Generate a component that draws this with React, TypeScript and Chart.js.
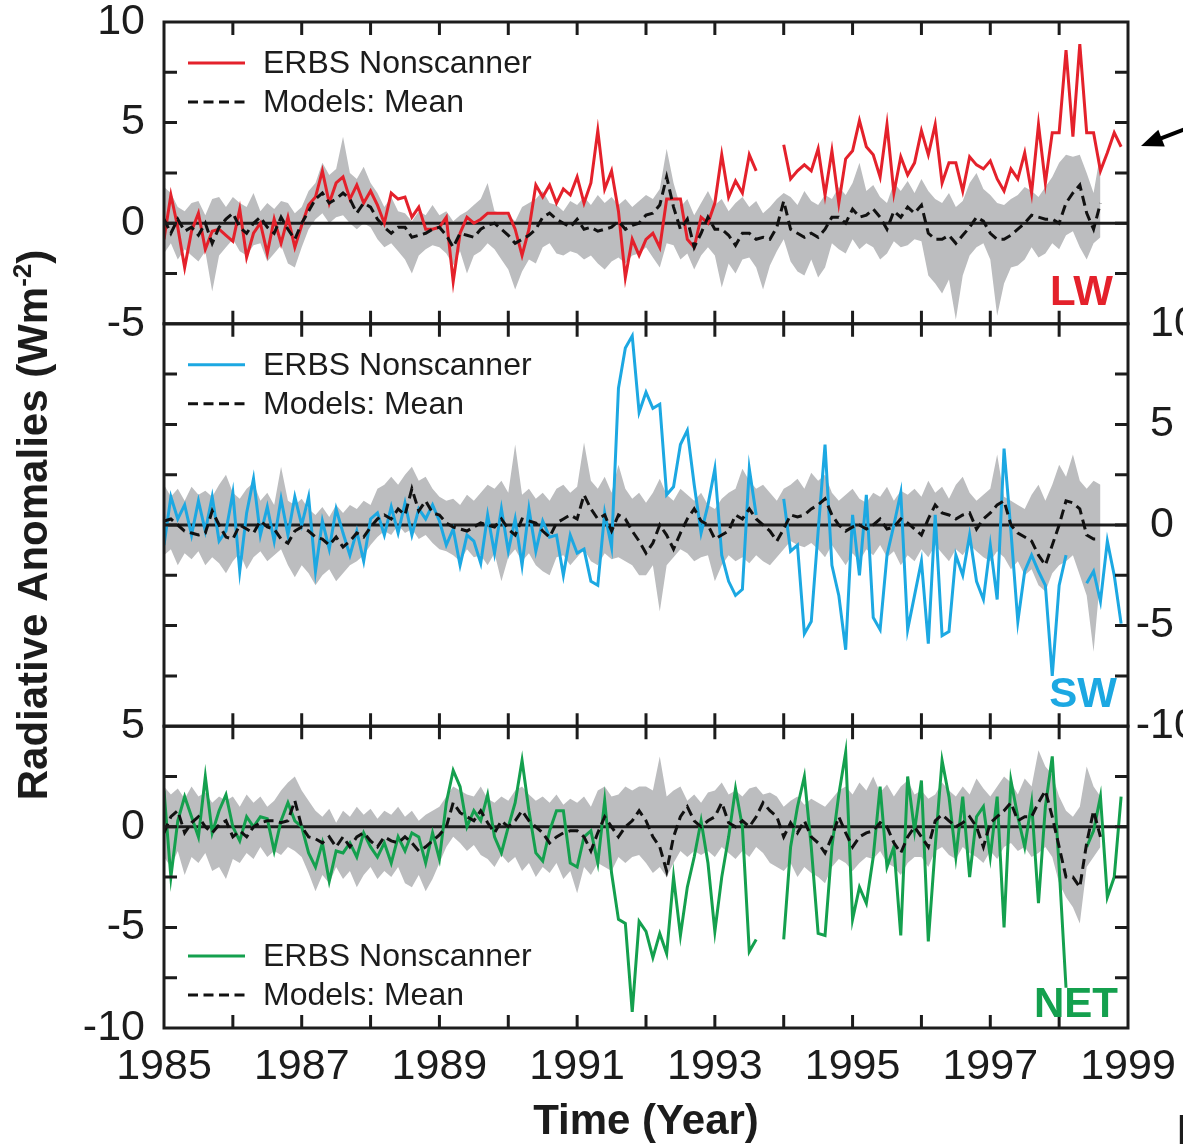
import React, { useEffect, useRef } from 'react';
import { Chart, registerables } from 'chart.js';

Chart.register(...registerables);

// ---------- axis / label data ----------
const START_YEAR = 1985;
const STEP_YEARS = 0.1;
const X_MIN = 1985;
const X_MAX = 1999;
const X_LABEL_STEP = 2;
const Y_TICK_STEP = 2.5;
const Y_LABEL_EVERY = 5;

const LEGEND_LABELS = ['ERBS Nonscanner', 'Models: Mean'];
const X_TITLE = 'Time (Year)';
const Y_TITLE_MAIN = 'Radiative Anomalies (Wm';
const Y_TITLE_SUP = '-2';
const Y_TITLE_END = ')';

// ---------- LW ----------
const LW_ERBS = [
  -0.8, 1.4, -0.2, -2.2, -0.4, 0.5, -1.3, -0.4, -0.3, -0.6,
  -0.9, 0.7, -1.7, -0.5, 0.0, -1.5, 0.2, -1.0, 0.3, -1.2,
  -0.1, 0.9, 1.3, 2.6, 1.0, 2.0, 2.3, 1.2, 1.9, 1.0,
  1.6, 0.9, 0.0, 1.5, 1.2, 1.3, 0.3, 0.8, -0.3, -0.3,
  -0.2, 0.3, -2.9, -0.5, 0.3, 0.0, 0.2, 0.5, 0.5, 0.5,
  0.5, -0.3, -1.6, -0.3, 1.9, 1.3, 1.9, 1.0, 1.7, 1.4,
  2.3, 1.0, 2.0, 4.6, 1.7, 2.6, 0.6, -2.7, -0.8, -1.6,
  -0.8, -0.5, -1.2, 1.2, 1.2, 1.2, -0.8, -1.2, 0.3, 0.0,
  1.0, 3.4, 1.3, 2.1, 1.5, 3.4, 2.6, null, null, null,
  3.9, 2.2, 2.6, 2.9, 2.6, 3.7, 1.4, 3.6, 1.0, 3.2,
  3.6, 5.1, 3.8, 3.4, 2.3, 4.9, 1.5, 3.3, 2.4, 3.0,
  4.6, 3.4, 4.9, 2.0, 3.0, 3.0, 1.6, 3.3, 2.9, 2.7,
  3.1, 2.2, 1.6, 2.7, 2.2, 3.5, 1.5, 4.9, 2.0, 4.5,
  4.5, 8.6, 4.3, 8.9, 4.5, 4.5, 2.6, 3.5, 4.5, 3.8,
];
const LW_MEAN = [
  0.2, -0.5, 0.2, -0.4, -0.2, -0.6, 0.0, -1.0, -0.2, 0.2,
  0.5, -0.2, -0.5, 0.0, 0.3, -0.2, -0.5, 0.3, -0.3, -0.8,
  0.0, 0.6, 1.2, 1.5, 1.0, 1.2, 1.5, 1.2, 0.5, 1.0,
  0.8, 0.2, -0.2, -0.5, -0.2, -0.2, -0.7, -0.6, -0.5, -0.3,
  -0.2, -0.6, -1.2, -0.5, -0.6, -0.7, -0.3, -0.1, 0.0, -0.3,
  -0.6, -1.0, -0.8, -0.6, -0.3, 0.3, 0.5, 0.2, 0.0, -0.2,
  0.2, -0.3, -0.2, -0.4, -0.3, -0.2, 0.1, -0.3, -0.1, 0.0,
  0.4, 0.5, 0.9, 2.3, 0.8, -0.3, 0.2, -1.2, -0.5, 0.3,
  -0.3, -0.3, -0.6, -1.1, -0.5, -0.5, -0.8, -0.7, -0.8, -0.2,
  1.1, -0.3, -0.5, -0.7, -0.5, -0.7, -0.3, 0.3, 0.3, 0.0,
  0.7, 0.3, 0.4, 0.7, 0.3, -0.3, 0.6, 0.3, 0.8, 0.5,
  0.9, -0.5, -0.8, -0.8, -0.6, -1.0, -0.6, -0.2, 0.3, 0.1,
  -0.5, -0.8, -0.8, -0.6, -0.3, 0.0, 0.4, 0.3, 0.2, 0.2,
  0.0, 1.0, 1.5, 1.9, 0.5, -0.3, 1.0, null, null, null,
];
const LW_HI = [
  1.8, 1.5, 0.8, 0.6, 1.0, 1.1, 0.4, 1.2, 1.3, 0.8,
  1.3, 1.0, 0.8, 1.5, 0.6, 1.0, 0.7, 1.1, 1.0, 0.5,
  0.8, 1.6, 2.0, 3.0, 2.4, 2.7, 4.3, 2.5, 2.2, 2.8,
  2.0, 1.5, 0.8, 1.3, 0.6, 0.5, 0.1, 0.6, 0.4, 0.9,
  0.4, 0.6, 0.1, 0.4, 0.6, 0.9, 1.2, 2.0, 0.6, 0.5,
  0.4, 0.1, 0.8, 1.0, 1.2, 1.6, 1.0, 0.9, 0.6, 1.1,
  0.9, 1.3, 0.9, 1.4, 1.0, 1.3, 0.9, 1.2, 0.8, 1.1,
  1.4, 1.2, 1.7, 3.7, 2.0, 0.8, 1.2, 0.4, 1.0, 1.6,
  0.9, 1.2, 0.6, 1.0, 1.3, 0.8, 1.1, 0.5, 0.8, 1.2,
  1.5, 1.3, 0.9, 1.6, 1.1, 0.9, 1.4, 1.2, 1.8, 1.4,
  2.0, 3.0, 1.6, 1.9, 1.3, 1.0, 2.0, 1.6, 2.1, 1.5,
  2.2, 1.6, 1.2, 1.0, 1.5, 0.8, 1.1, 2.0, 2.5, 1.7,
  1.4, 1.0, 0.9, 1.2, 1.4, 1.8, 1.6, 1.3, 1.8, 2.3,
  3.0, 3.4, 3.3, 3.4, 2.5, 1.5, 3.5, null, null, null,
];
const LW_LO = [
  -1.5, -1.0, -1.8, -1.3, -1.6, -1.9, -1.4, -3.4, -1.6, -1.2,
  -0.8, -1.4, -1.6, -1.1, -1.0, -1.9, -1.5, -1.1, -2.0, -2.2,
  -1.2, -0.3, 0.2, 0.5, 0.0, 0.3, 0.4, 0.0, -0.3, 0.0,
  -0.2, -0.8, -1.2, -1.0, -1.4, -1.8, -2.5, -1.6, -1.3, -1.1,
  -1.2, -1.5, -2.1, -1.4, -2.5, -1.6, -1.4, -1.0, -1.3, -1.8,
  -2.3, -3.3, -2.4, -1.8, -2.0, -1.2, -1.0, -1.5, -1.6, -1.4,
  -1.5, -1.8, -1.6, -2.0, -2.3, -1.9, -1.7, -2.0, -1.6, -1.5,
  -1.2, -1.7, -2.2, -1.0, -1.1, -1.8, -1.5, -2.3, -1.6, -1.2,
  -1.6, -3.2, -2.0, -2.5, -1.8, -1.7, -2.2, -3.3, -2.1, -1.4,
  -0.8, -1.9, -2.4, -2.6, -1.8, -2.7, -2.2, -1.0, -1.3, -1.5,
  -0.8, -1.3, -1.0, -1.2, -1.8, -1.5, -0.9, -1.2, -1.1, -0.8,
  -0.9, -2.6, -3.0, -3.5, -2.8, -4.8, -2.6, -1.6, -1.2, -1.0,
  -1.8, -4.6, -3.0, -2.2, -2.1, -1.8, -1.2, -1.7, -1.5, -1.0,
  -1.3, -0.6, -0.4, -1.2, -1.8, -1.0, -0.7, null, null, null,
];

// ---------- SW ----------
const SW_ERBS = [
  -1.0, 1.4, 0.3, 1.0, -0.5, 1.2, -0.3, 1.4, -0.8, -0.3,
  1.6, -2.3, 0.6, 2.3, -0.5, 0.9, -0.8, 1.3, -0.5, 1.4,
  0.0, 1.4, -2.3, 0.2, -1.2, 0.8, -0.4, -1.5, -0.3, -1.8,
  0.3, 0.6, -0.5, 0.9, -0.4, 1.1, -0.5, 0.8, 0.3, 1.0,
  0.2, -1.0, -0.2, -2.0, -0.5, -0.8, -1.9, 0.5, -1.4, 0.8,
  -1.3, 0.3, -2.0, 0.8, -1.3, 0.2, -0.6, -0.5, -2.5, -0.5,
  -1.4, -1.2, -2.8, -3.0, 0.6, -1.1, 6.8, 8.8, 9.4, 5.6,
  6.6, 5.8, 6.0, 1.5, 1.9, 4.0, 4.7, 2.0, -0.4, 1.0,
  2.8, -1.5, -2.8, -3.5, -3.2, 2.8, 0.5, null, null, null,
  1.3, -1.3, -1.0, -5.4, -4.8, -0.3, 4.0, -2.0, -3.5, -6.2,
  0.5, -2.5, 1.5, -4.6, -5.2, -1.5, 0.0, 1.6, -5.2, -3.5,
  -1.8, -5.9, 0.5, -5.5, -5.3, -1.5, -2.5, -0.5, -2.8, -3.7,
  -1.0, -3.7, 3.8, -0.3, -4.8, -2.3, -1.5, -2.3, -3.0, -7.5,
  -3.0, -1.5, null, null, -2.9, -2.3, -3.8, -0.8, -2.5, -4.9,
];
const SW_MEAN = [
  0.2, 0.3, 0.0, -0.3, -0.4, -0.5, -0.4, 0.7, 0.0, -0.6,
  -0.7, 0.0, -0.2, -0.4, 0.2, -0.1, -0.2, -0.7, -0.9, -0.3,
  -0.1, -0.3, -0.6, -0.7, -1.0, -0.6, -1.1, -0.8, -0.4, -0.6,
  -0.1, 0.3, 0.5, 0.3, 0.8, 0.5, 1.8, 0.7, 1.2, 0.6,
  0.5, 0.1, -0.1, -0.2, -0.3, -0.1, 0.1, 0.0, -0.1, 0.3,
  -0.2, -0.5, 0.3, 0.2, 0.1, -0.3, -0.6, 0.1, 0.3, 0.5,
  0.3, 1.5, 0.8, 0.3, 0.5, -0.3, 0.5, 0.3, -0.3, -0.8,
  -1.4, -0.9, 0.0, -0.5, -1.2, -0.4, 0.3, 0.8, 0.2, 0.0,
  -0.7, -0.5, -0.3, 0.5, 0.3, 0.8, 0.3, 0.0, -0.3, -0.8,
  -0.2, 0.5, 0.4, 0.5, 0.8, 1.0, 1.3, 0.5, 0.0, -0.3,
  -0.1, 0.0, -0.2, 0.0, 0.3, -0.2, -0.1, 0.3, 0.1, -0.2,
  -0.5, 0.3, 1.0, 0.6, 0.5, 0.3, 0.5, 0.6, -0.2, 0.3,
  0.6, 1.0, 1.2, 0.0, -0.4, -0.6, -0.8, -1.5, -2.0, -1.0,
  0.0, 1.2, 1.1, 0.8, -0.5, -0.7, -0.7, null, null, null,
];
const SW_HI = [
  2.0, 1.4, 1.8, 1.2, 1.9, 1.5, 1.7, 1.4, 2.0, 2.5,
  1.6, 1.3, 1.8, 2.1, 1.2, 1.6, 1.0, 2.9, 1.2, 1.0,
  1.3, 0.8, 0.5, 0.9, 0.4, 1.0, 0.6, 1.0, 0.8, 1.2,
  1.0, 1.8, 2.0, 2.4, 2.0, 2.5, 2.9, 2.2, 2.4, 1.8,
  1.4, 1.2, 1.3, 1.0, 1.5, 1.2, 1.6, 2.0, 1.8, 2.2,
  1.6, 4.0, 1.5, 1.8, 1.3, 1.6, 1.2, 1.8, 2.0, 1.6,
  1.9, 4.1, 2.2, 1.8, 2.4, 1.6, 3.0, 1.8, 1.3, 1.6,
  1.1, 1.6, 2.3, 1.5, 1.2, 1.8, 1.5, 1.2, 1.6, 1.0,
  0.8, 1.3, 1.6, 1.8, 2.8, 2.2, 1.8, 2.0, 1.6, 1.2,
  1.8, 2.0, 2.3, 1.8, 2.6, 2.2, 2.5, 1.6, 1.2, 1.5,
  1.8, 1.3, 1.1, 1.6, 1.4, 1.9, 1.2, 1.7, 1.5, 1.8,
  1.4, 2.2, 1.6, 1.9, 1.3, 2.0, 2.4, 1.6, 1.2, 1.5,
  1.8, 3.5, 1.4, 1.2, 1.0, 0.8, 1.5, 2.0, 1.2, 2.0,
  3.0, 2.4, 3.5, 2.2, 1.8, 2.2, 2.0, null, null, null,
];
const SW_LO = [
  -1.5, -1.2, -2.0, -1.4, -1.7, -1.3, -2.0, -1.6, -1.9, -2.4,
  -1.8, -1.4, -2.2, -1.6, -1.3, -1.8, -1.5, -1.2, -2.0, -2.6,
  -2.0, -2.4, -3.0, -2.5, -2.2, -2.8, -2.4, -2.0, -1.8, -1.5,
  -1.0, -0.6, -0.3, -0.5, 0.0, -0.4, -0.2, -0.7, -0.5, -0.9,
  -1.2, -1.3, -1.5, -1.8, -1.2, -1.6, -1.5, -2.0, -1.4, -2.8,
  -1.6, -1.2, -1.8, -1.4, -2.0, -2.3, -2.5, -1.6, -1.5, -2.0,
  -1.6, -1.2, -1.8, -2.0, -1.4, -1.7, -1.6, -1.8, -2.0, -2.5,
  -2.5, -2.0, -4.3, -2.0, -1.6, -1.2, -1.4, -1.8, -1.6, -1.5,
  -2.8, -2.0, -1.5, -1.8, -1.6, -1.9, -1.5, -1.8, -2.0, -1.6,
  -1.2, -0.8, -1.0, -1.1, -0.9, -1.2, -1.6, -1.0, -1.5, -2.0,
  -1.4, -1.8, -1.2, -1.5, -1.0, -1.6, -1.3, -2.0, -1.5, -1.8,
  -1.2, -1.6, -1.0, -1.4, -1.8, -1.2, -1.5, -1.0, -1.3, -1.6,
  -1.8, -1.3, -1.6, -2.2, -1.8, -2.5, -2.2, -3.0, -3.3, -2.4,
  -2.0, -1.8, -1.5, -2.5, -3.5, -6.3, -2.5, null, null, null,
];

// ---------- NET ----------
const NET_ERBS = [
  1.8, -2.5, 0.3, 1.5, 0.5, -0.5, 2.5, -0.3, 0.8, 1.6,
  0.0, -0.7, 0.5, 0.0, 0.5, 0.4, -1.2, 0.3, 1.2, 0.3,
  0.0, -1.3, -2.0, -0.8, -2.7, -1.2, -1.3, -0.8, -1.5, -0.3,
  -1.0, -1.5, -0.8, -1.8, -0.5, -1.2, -0.3, -0.5, -1.8, -0.3,
  -1.6, 1.2, 2.8, 2.0, 0.0, 0.8, 0.3, 1.6, -0.5, -1.3,
  0.0, 1.2, 3.3, 0.8, -1.3, -1.7, -0.2, 0.8, 0.8, -1.8,
  -2.0, -0.5, -0.2, -1.8, 1.3, -2.3, -4.6, -4.8, -9.2, -4.7,
  -5.2, -6.5, -5.3, -6.3, -2.5, -5.4, -3.0, -1.5, 0.3, -1.8,
  -5.2, -2.5, -0.5, 1.9, 0.0, -6.2, -5.6, null, null, null,
  -5.6, -1.0, 1.0, 2.5, -1.0, -5.3, -5.4, -1.0, 1.6, 3.7,
  -4.6, -3.0, -3.8, -1.5, 2.0, -2.0, -1.0, -5.4, 2.5, -0.2,
  2.3, -5.7, -1.0, 3.3, 1.5, -1.5, 1.5, -2.5, 0.5, 1.0,
  -1.5, 1.5, -5.0, 2.3, 0.5, -1.0, 1.2, -3.8, 1.0, 3.5,
  -2.0, -8.0, null, null, -1.0, -0.2, 1.5, -3.5, -2.5, 1.5,
];
const NET_MEAN = [
  -0.3, 0.5, 0.8, -0.3, 0.2, 0.5, 0.0, -0.3, 0.1, 0.3,
  -0.5, -0.2, -0.5, 0.0, 0.2, 0.3, 0.3, 0.2, 0.3, 1.3,
  0.0, -0.5, -0.6, -0.8, -0.5, -1.0, -0.5, -1.0, -0.5, -0.3,
  -0.7, -1.0, -0.5, -0.7, -0.8, -0.5, -0.8, -1.2, -1.0, -0.7,
  -0.4, 0.0, 1.2, 0.7, 0.5, 0.3, 0.8, 0.2, -0.3, 0.3,
  0.0, 0.3, 0.8, 0.3, 0.0, -0.3, -0.8, -0.5, -0.3, -0.2,
  -0.2, -0.5, -1.2, -0.3, 0.5, 0.0, -0.5, 0.0, 0.3, 0.8,
  0.3, -0.5, -1.0, -2.2, -0.5, 0.5, 1.0, 0.3, 0.0, 0.3,
  0.5, 1.2, 0.2, 0.0, 0.3, 0.0, 0.5, 1.2, 0.8, 0.5,
  -0.5, 0.2, -0.3, 0.3, -0.5, -0.8, -1.3, -0.5, 0.5, -0.3,
  -1.0, -0.5, -0.3, -0.2, 0.2, 0.0, -0.8, -1.3, -0.5, 0.0,
  -0.5, -1.0, 0.3, 0.6, 0.3, 0.0, 0.2, 0.5, 0.0, -1.0,
  0.2, 0.5, 0.8, 1.2, 0.3, 0.5, 0.5, 1.2, 1.8, 0.5,
  -1.0, -2.5, -2.5, -3.0, -0.8, 0.8, -0.5, null, null, null,
];
const NET_HI = [
  2.0, 1.6, 1.9, 1.4, 2.0, 1.5, 1.7, 1.2, 1.5, 1.3,
  1.5, 1.0, 1.6, 1.2, 1.5, 1.0, 1.3, 1.8, 2.2, 2.5,
  1.8, 1.3, 0.8, 0.5, 0.9, 0.2, 0.8, 0.5, 1.0, 0.6,
  0.9, 0.4, 0.8, 0.6, 1.0, 0.5, 0.8, 0.3, 0.6, 0.8,
  1.0, 1.5, 2.0, 1.8, 1.6, 1.5, 2.0, 1.4, 1.2, 1.5,
  1.3, 1.8, 2.0, 1.6, 1.3, 1.5, 1.2, 1.6, 1.1, 1.4,
  1.2, 1.5, 1.0, 1.8, 2.0, 1.5, 1.6, 2.0, 1.8, 2.0,
  2.0, 1.8, 3.5, 1.5, 1.8, 2.0, 1.3, 1.6, 1.2, 1.7,
  1.8, 2.2, 1.6, 1.8, 1.5, 1.9, 2.0, 1.6, 1.7, 1.5,
  1.0, 1.3, 1.5, 1.1, 1.4, 1.2, 1.0, 1.4, 1.8, 2.0,
  1.6, 2.2, 1.8, 2.5, 1.7, 2.1, 1.5, 2.0, 2.3, 1.6,
  1.8, 1.4, 1.6, 2.2, 1.8, 1.5, 2.0, 1.6, 2.4, 1.9,
  1.5, 2.0, 2.5, 2.2, 1.6, 2.4, 2.0, 3.8, 3.0, 2.6,
  1.5, 0.8, 0.5, 1.0, 3.0, 2.0, 1.5, null, null, null,
];
const NET_LO = [
  -1.5, -2.0, -1.2, -2.4, -1.5, -1.8, -1.3, -2.2, -2.0, -2.6,
  -1.6, -1.8, -1.3, -1.6, -1.0, -1.5, -1.2, -1.4, -1.0, -1.2,
  -1.5, -2.3, -3.2, -2.4, -2.8, -2.0, -2.6, -2.2, -3.0, -2.4,
  -2.0, -2.6, -2.2, -2.5, -2.0, -2.8, -3.0, -2.4, -3.2, -2.6,
  -1.8, -1.0, -0.5, -0.8, -1.2, -0.9, -1.4, -1.6, -2.0, -1.4,
  -1.8, -1.5, -2.2, -1.8, -2.5, -2.0, -2.3, -1.8, -2.6, -2.2,
  -3.3, -2.0, -2.4, -1.8, -2.0, -2.2, -1.5, -1.8, -1.5, -1.4,
  -1.8, -2.3, -2.0, -2.5, -1.8, -1.2, -1.5, -1.2, -1.4, -1.2,
  -1.5, -1.0, -1.3, -1.6, -1.2, -1.5, -1.0, -1.3, -1.8, -2.0,
  -2.2, -1.8, -2.5, -2.0, -2.3, -2.5, -2.8, -2.0, -1.6, -1.8,
  -2.2, -1.8, -1.5, -1.6, -1.2, -1.8, -2.0, -2.4, -1.8, -1.5,
  -1.5, -2.0, -1.2, -1.0, -1.4, -1.6, -1.0, -1.3, -1.5, -1.8,
  -1.2, -1.6, -1.0, -0.8, -1.2, -1.0, -1.5, -1.3, -1.0, -1.5,
  -2.8, -3.5, -4.0, -4.8, -2.0, -1.5, -1.0, null, null, null,
];

// ---------- styles ----------
const FONT = '"Liberation Sans", Arial, Helvetica, sans-serif';
const INK = '#1c1c1c';
const BAND = '#bcbdbf';
const CANVAS_W = 1183;
const CANVAS_H = 1148;
const PLOT_LEFT = 164;
const TICK_FONT_SIZE = 43;
const LINE_W = 3;

type Panel = {
  id: string; name: string; min: number; max: number; color: string;
  erbs: (number | null)[]; mean: (number | null)[]; hi: (number | null)[]; lo: (number | null)[];
  weight: number; leftLabels: boolean; rightLabels: boolean;
  legendTop: boolean; labelInsetRight: number; labelInsetBottom: number;
};

const PANELS: Panel[] = [
  { id: 'yLW', name: 'LW', min: -5, max: 10, color: '#e4212b', erbs: LW_ERBS, mean: LW_MEAN, hi: LW_HI, lo: LW_LO,
    weight: 3, leftLabels: true, rightLabels: false, legendTop: true, labelInsetRight: 15, labelInsetBottom: 19 },
  { id: 'ySW', name: 'SW', min: -10, max: 10, color: '#1ca8e2', erbs: SW_ERBS, mean: SW_MEAN, hi: SW_HI, lo: SW_LO,
    weight: 2, leftLabels: false, rightLabels: true, legendTop: true, labelInsetRight: 11, labelInsetBottom: 19 },
  { id: 'yNET', name: 'NET', min: -10, max: 5, color: '#14a04e', erbs: NET_ERBS, mean: NET_MEAN, hi: NET_HI, lo: NET_LO,
    weight: 1, leftLabels: true, rightLabels: false, legendTop: false, labelInsetRight: 10, labelInsetBottom: 11 },
];

function toPoints(values: (number | null)[]) {
  return values.map((v, i) => ({ x: Math.round((START_YEAR + i * STEP_YEARS) * 100) / 100, y: v }));
}

function buildDatasets() {
  const ds: any[] = [];
  PANELS.forEach((p) => {
    ds.push({
      data: toPoints(p.hi), yAxisID: p.id, borderWidth: 0, pointRadius: 0, fill: '+1',
      backgroundColor: BAND, borderColor: BAND, order: 3, spanGaps: false, tension: 0, zeroLineAxis: p.id,
    });
    ds.push({
      data: toPoints(p.lo), yAxisID: p.id, borderWidth: 0, pointRadius: 0, fill: false,
      backgroundColor: BAND, borderColor: BAND, order: 3, spanGaps: false, tension: 0,
    });
    ds.push({
      data: toPoints(p.erbs), yAxisID: p.id, borderWidth: LINE_W, pointRadius: 0, fill: false,
      borderColor: p.color, order: 1, spanGaps: false, tension: 0,
    });
    ds.push({
      data: toPoints(p.mean), yAxisID: p.id, borderWidth: LINE_W, pointRadius: 0, fill: false,
      borderColor: '#111111', borderDash: [10, 5.5], order: 0, spanGaps: false, tension: 0,
    });
  });
  return ds;
}

function buildScales() {
  const scales: any = {
    x: {
      type: 'linear', position: 'bottom', min: X_MIN, max: X_MAX,
      grid: { display: false, drawTicks: false }, border: { display: false },
      ticks: {
        stepSize: X_LABEL_STEP, autoSkip: false, maxRotation: 0, minRotation: 0, padding: 13,
        color: INK, font: { family: FONT, size: TICK_FONT_SIZE }, callback: (v: number) => String(v),
      },
      title: { display: true, text: X_TITLE, color: INK, padding: 0, font: { family: FONT, size: 42, weight: 'bold' } },
      afterFit: (s: any) => { s.height = 120; s.paddingLeft = 0; s.paddingRight = 0; },
    },
  };
  [...PANELS].reverse().forEach((p) => {
    scales[p.id] = {
      type: 'linear', position: 'left', stack: 'panels', stackWeight: p.max - p.min, weight: p.weight,
      min: p.min, max: p.max,
      grid: { display: false, drawTicks: false }, border: { display: false },
      ticks: {
        stepSize: Y_TICK_STEP, autoSkip: false, padding: 19, color: INK, font: { family: FONT, size: TICK_FONT_SIZE },
        callback: (v: number) => (p.leftLabels && v % Y_LABEL_EVERY === 0 ? String(v) : ''),
      },
      afterFit: (s: any) => { s.width = PLOT_LEFT; s.paddingTop = 0; s.paddingBottom = 0; },
    };
  });
  return scales;
}

const framePlugin = {
  id: 'panelFrames',
  afterDatasetDraw(chart: any, args: any) {
    const ds = chart.data.datasets[args.index];
    if (!ds || !ds.zeroLineAxis) return;
    const y = chart.scales[ds.zeroLineAxis];
    const { left, right } = chart.chartArea;
    const py = y.getPixelForValue(0);
    const ctx = chart.ctx;
    ctx.save();
    ctx.strokeStyle = INK;
    ctx.lineWidth = 3;
    ctx.beginPath();
    ctx.moveTo(left, py);
    ctx.lineTo(right, py);
    ctx.stroke();
    ctx.restore();
  },
  afterDraw(chart: any) {
    const ctx: CanvasRenderingContext2D = chart.ctx;
    const x = chart.scales.x;
    const { left, right, top: areaTop, bottom: areaBottom } = chart.chartArea;
    const TICK = 13;
    ctx.save();
    PANELS.forEach((p) => {
      const y = chart.scales[p.id];
      const top = y.top;
      const bottom = y.bottom;
      ctx.strokeStyle = INK;
      ctx.lineWidth = 3;
      ctx.setLineDash([]);
      ctx.beginPath();
      for (let yr = Math.ceil(x.min) + 1; yr < x.max; yr++) {
        const px = x.getPixelForValue(yr);
        ctx.moveTo(px, top); ctx.lineTo(px, top + TICK);
        ctx.moveTo(px, bottom); ctx.lineTo(px, bottom - TICK);
      }
      y.ticks.forEach((t: any) => {
        if (t.value <= y.min || t.value >= y.max) return;
        const py = y.getPixelForValue(t.value);
        ctx.moveTo(left, py); ctx.lineTo(left + TICK, py);
        ctx.moveTo(right, py); ctx.lineTo(right - TICK, py);
      });
      ctx.stroke();
      ctx.strokeRect(left, top, right - left, bottom - top);

      // legend
      const row1 = p.legendTop ? top + 41 : bottom - 72;
      const row2 = row1 + 39;
      const l0 = left + 24, l1 = left + 81, tx = left + 99;
      ctx.lineWidth = 3;
      ctx.strokeStyle = p.color;
      ctx.beginPath(); ctx.moveTo(l0, row1); ctx.lineTo(l1, row1); ctx.stroke();
      ctx.strokeStyle = '#111111';
      ctx.setLineDash([10, 5.5]);
      ctx.beginPath(); ctx.moveTo(l0, row2); ctx.lineTo(l1, row2); ctx.stroke();
      ctx.setLineDash([]);
      ctx.fillStyle = INK;
      ctx.font = `32px ${FONT}`;
      ctx.textAlign = 'left';
      ctx.textBaseline = 'middle';
      ctx.fillText(LEGEND_LABELS[0], tx, row1 + 1);
      ctx.fillText(LEGEND_LABELS[1], tx, row2 + 1);

      // panel label
      ctx.fillStyle = p.color;
      ctx.font = `bold 42px ${FONT}`;
      ctx.textAlign = 'right';
      ctx.textBaseline = 'alphabetic';
      ctx.fillText(p.name, right - p.labelInsetRight, bottom - p.labelInsetBottom);

      // right-hand labels (neighbouring panel scale)
      if (p.rightLabels) {
        ctx.fillStyle = INK;
        ctx.font = `${TICK_FONT_SIZE}px ${FONT}`;
        ctx.textAlign = 'left';
        ctx.textBaseline = 'middle';
        const minusW = ctx.measureText('-').width;
        y.ticks.forEach((t: any) => {
          if (t.value % Y_LABEL_EVERY !== 0) return;
          const py = y.getPixelForValue(t.value);
          const xs = right + 22 - (t.value < 0 ? minusW : 0);
          ctx.fillText(String(t.value), xs, py);
        });
      }
    });

    // y axis title with superscript
    ctx.save();
    ctx.translate(32, (areaTop + areaBottom) / 2);
    ctx.rotate(-Math.PI / 2);
    ctx.fillStyle = INK;
    ctx.textBaseline = 'alphabetic';
    ctx.textAlign = 'left';
    ctx.font = `bold 42px ${FONT}`;
    const w1 = ctx.measureText(Y_TITLE_MAIN).width;
    const w3 = ctx.measureText(Y_TITLE_END).width;
    ctx.font = `bold 26px ${FONT}`;
    const w2 = ctx.measureText(Y_TITLE_SUP).width;
    let cx = -(w1 + w2 + w3) / 2;
    ctx.font = `bold 42px ${FONT}`;
    ctx.fillText(Y_TITLE_MAIN, cx, 15);
    cx += w1;
    ctx.font = `bold 26px ${FONT}`;
    ctx.fillText(Y_TITLE_SUP, cx, -1);
    cx += w2;
    ctx.font = `bold 42px ${FONT}`;
    ctx.fillText(Y_TITLE_END, cx, 15);
    ctx.restore();

    // arrow from neighbouring figure
    const tipX = right + 13, tipY = areaTop + 124;
    const tailX = CANVAS_W + 10, tailY = areaTop + 104;
    const dx = tailX - tipX, dy = tailY - tipY;
    const len = Math.hypot(dx, dy);
    const ux = dx / len, uy = dy / len;
    const headL = 22, headW = 9;
    ctx.strokeStyle = '#000';
    ctx.lineWidth = 4;
    ctx.beginPath();
    ctx.moveTo(tipX + ux * (headL - 2), tipY + uy * (headL - 2));
    ctx.lineTo(tailX, tailY);
    ctx.stroke();
    ctx.fillStyle = '#000';
    ctx.beginPath();
    ctx.moveTo(tipX, tipY);
    ctx.lineTo(tipX + ux * headL - uy * headW, tipY + uy * headL + ux * headW);
    ctx.lineTo(tipX + ux * headL + uy * headW, tipY + uy * headL - ux * headW);
    ctx.closePath();
    ctx.fill();

    // clipped letter at bottom-right edge
    ctx.fillStyle = INK;
    ctx.font = `bold 42px ${FONT}`;
    ctx.textAlign = 'left';
    ctx.textBaseline = 'alphabetic';
    ctx.fillText('I', CANVAS_W - 6, CANVAS_H - 4);

    ctx.restore();
  },
};

export default function App() {
  const ref = useRef<HTMLCanvasElement | null>(null);
  useEffect(() => {
    document.body.style.margin = '0';
    const canvas = ref.current;
    if (!canvas) return;
    const chart = new Chart(canvas, {
      type: 'line',
      data: { datasets: buildDatasets() },
      options: {
        responsive: false,
        animation: false,
        devicePixelRatio: 1,
        layout: { padding: { top: 22, right: CANVAS_W - 1128, bottom: 0, left: 0 } },
        plugins: { legend: { display: false }, tooltip: { enabled: false }, title: { display: false } },
        scales: buildScales(),
        elements: { line: { borderJoinStyle: 'miter', borderCapStyle: 'butt' } },
      } as any,
      plugins: [framePlugin],
    });
    return () => chart.destroy();
  }, []);
  return (
    <div style={{ position: 'absolute', left: 0, top: 0, width: CANVAS_W, height: CANVAS_H, background: '#fff' }}>
      <canvas ref={ref} width={CANVAS_W} height={CANVAS_H} style={{ display: 'block' }} />
    </div>
  );
}
